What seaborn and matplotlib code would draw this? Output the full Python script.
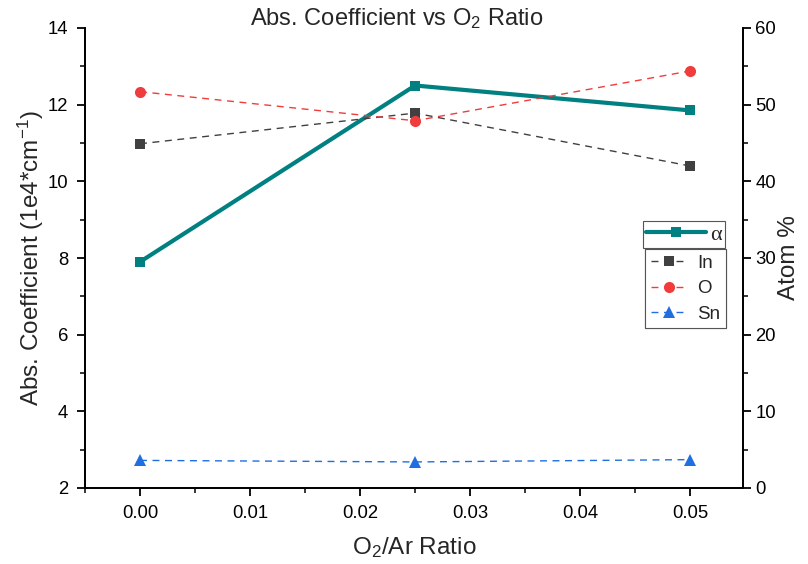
import numpy as np
import pandas as pd
import matplotlib
matplotlib.use("Agg")
import matplotlib.pyplot as plt
import seaborn as sns
from matplotlib.ticker import MultipleLocator

# ---- data ----
ratio = [0.0, 0.025, 0.05]
alpha_vals = [7.90, 12.50, 11.85]
in_vals = [44.9, 48.9, 42.0]
o_vals = [51.7, 47.9, 54.4]
sn_vals = [3.6, 3.4, 3.7]

sns.set_style("ticks")
plt.rcParams['font.family'] = ['Liberation Sans', 'DejaVu Sans']
plt.rcParams['mathtext.default'] = 'regular'
plt.rcParams['xtick.direction'] = 'out'
plt.rcParams['ytick.direction'] = 'out'

fig = plt.figure(figsize=(8.08, 5.64), dpi=100)
ax = fig.add_axes([85/808, 1-488/564, (743-85)/808, (488-28)/564])
ax2 = ax.twinx()

teal = '#008080'
gray = '#404040'
red = '#F03C3C'
blue = '#1F6FE0'

df_a = pd.DataFrame({'x': ratio, 'y': alpha_vals})
sns.lineplot(data=df_a, x='x', y='y', ax=ax, color=teal, lw=3, marker='s',
             markersize=7, markeredgewidth=0, label='α', legend=False)

series = [('In', in_vals, gray, 's', 7), ('O', o_vals, red, 'o', 8), ('Sn', sn_vals, blue, '^', 8)]
for name, vals, col, mk, ms in series:
    d = pd.DataFrame({'x': ratio, 'y': vals})
    sns.lineplot(data=d, x='x', y='y', ax=ax2, color=col, lw=1, linestyle='--',
                 marker=mk, markersize=ms, markeredgewidth=0, label=name, legend=False)
for ln in ax2.get_lines():
    ln.set_dashes([5, 4])

ax.set_xlim(-0.005, 0.0548)
ax.set_ylim(2, 14)
ax2.set_ylim(0, 60)

ax.xaxis.set_major_locator(MultipleLocator(0.01))
ax.xaxis.set_minor_locator(MultipleLocator(0.005))
ax.yaxis.set_major_locator(MultipleLocator(2))
ax.yaxis.set_minor_locator(MultipleLocator(1))
ax2.yaxis.set_major_locator(MultipleLocator(10))
ax2.yaxis.set_minor_locator(MultipleLocator(5))
ax.xaxis.set_major_formatter(matplotlib.ticker.FormatStrFormatter('%.2f'))

for a in (ax, ax2):
    for s in a.spines.values():
        s.set_linewidth(1.3)
        s.set_color('black')
    a.spines['top'].set_visible(False)
    a.tick_params(which='major', length=6, width=1.3, labelsize=13.3, colors='black', pad=6)
    a.tick_params(which='minor', length=3.5, width=1.3)
ax2.tick_params(axis='y', which='major', pad=3)

ax.set_xlabel('O$_2$/Ar Ratio', fontsize=17.5, labelpad=10)
ax.set_ylabel('Abs. Coefficient (1e4*cm$^{-1}$)', fontsize=17.5, labelpad=1)
ax2.set_ylabel('Atom %', fontsize=17.5, labelpad=1)
fig.text(397/808, 1-25/564, 'Abs. Coefficient vs O$_2$ Ratio', fontsize=17,
         ha='center', va='baseline')

# legends
h1 = ax.get_lines()
leg1 = ax.legend(handles=h1, labels=['α'], loc='upper left',
                 bbox_to_anchor=(643/808, 1-221/564), bbox_transform=fig.transFigure,
                 frameon=True, fancybox=False, edgecolor='#555555', framealpha=1,
                 handlelength=2.7, borderpad=0.15, handletextpad=0.15,
                 prop={'family': 'Liberation Serif', 'size': 16}, borderaxespad=0)
leg1.get_frame().set_linewidth(0.8)
h2 = ax2.get_lines()
leg2 = ax2.legend(handles=h2, labels=['In', 'O', 'Sn'], loc='upper left',
                  bbox_to_anchor=(645/808, 1-249/564), bbox_transform=fig.transFigure,
                  frameon=True, fancybox=False, edgecolor='#555555', framealpha=1,
                  handlelength=2.0, borderpad=0.3, handletextpad=0.5, labelspacing=0.45,
                  fontsize=13.5, borderaxespad=0)
leg2.get_frame().set_linewidth(0.8)
ax2.add_artist(leg2)
leg1.remove()
ax2.add_artist(leg1)

fig.savefig('out.png', dpi=100)
